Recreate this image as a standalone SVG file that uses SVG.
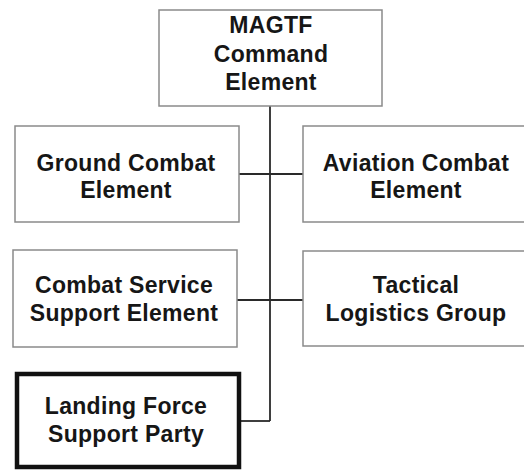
<svg xmlns="http://www.w3.org/2000/svg" width="524" height="471" viewBox="0 0 524 471">
<style>
.box{fill:#fff;stroke:#8a8a8a;stroke-width:1.5}
.bold{fill:#fff;stroke:#111;stroke-width:4.5}
.lbl{font-family:"Liberation Sans",Arial,sans-serif;font-weight:bold;font-size:23px;letter-spacing:0.3px;fill:#161616;text-anchor:middle}
.con{fill:none;stroke:#2a2a2a;stroke-width:1.8}
</style>
<rect width="524" height="471" fill="#fff"/>
<g id="connectors">
<line class="con" x1="270" y1="106" x2="270" y2="421"/>
<line class="con" x1="239" y1="174" x2="303" y2="174"/>
<line class="con" x1="237" y1="300" x2="303" y2="300"/>
<polyline class="con" points="270,421 240,421"/>
</g>
<g id="magtf">
<rect class="box" x="159" y="10" width="223" height="96"/>
<text class="lbl" x="271" y="33">MAGTF</text>
<text class="lbl" x="271" y="62">Command</text>
<text class="lbl" x="271" y="90">Element</text>
</g>
<g id="gce">
<rect class="box" x="15" y="126" width="224" height="96"/>
<text class="lbl" x="126" y="171">Ground Combat</text>
<text class="lbl" x="126" y="198">Element</text>
</g>
<g id="ace">
<rect class="box" x="303" y="126" width="230" height="96"/>
<text class="lbl" x="416" y="171">Aviation Combat</text>
<text class="lbl" x="416" y="198">Element</text>
</g>
<g id="csse">
<rect class="box" x="13" y="250" width="224" height="97"/>
<text class="lbl" x="124" y="293">Combat Service</text>
<text class="lbl" x="124" y="321">Support Element</text>
</g>
<g id="tlg">
<rect class="box" x="303" y="251" width="230" height="95"/>
<text class="lbl" x="416" y="293">Tactical</text>
<text class="lbl" x="416" y="321">Logistics Group</text>
</g>
<g id="lfsp">
<rect class="bold" x="17" y="374" width="222" height="93"/>
<text class="lbl" x="126" y="414">Landing Force</text>
<text class="lbl" x="126" y="442">Support Party</text>
</g>
</svg>
